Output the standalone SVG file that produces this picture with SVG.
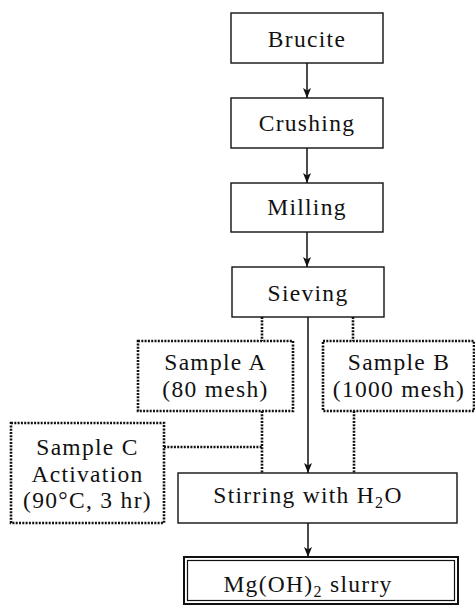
<svg xmlns="http://www.w3.org/2000/svg" width="475" height="607" viewBox="0 0 475 607">
<style>
  .box{fill:#fff;stroke:#111;stroke-width:1.4}
  .dbox{fill:#fff;stroke:#111;stroke-width:2.6;stroke-dasharray:2 1.3}
  .t{font-family:"Liberation Serif","Times New Roman",serif;font-size:23.5px;letter-spacing:1.3px;fill:#111;text-anchor:middle}
  .ln{stroke:#111;stroke-width:1.5;fill:none}
  .dl{stroke:#111;stroke-width:2.6;fill:none;stroke-dasharray:2 1.3}
</style>
<defs>
  <marker id="ah" viewBox="0 0 10 8" refX="10" refY="4" markerWidth="10" markerHeight="8" markerUnits="userSpaceOnUse" orient="auto">
    <path d="M0,0 L10,4 L0,8 L2.5,4 z" fill="#111"/>
  </marker>
</defs>
<rect width="475" height="607" fill="#fff"/>
<g id="connectors">
  <line class="ln" x1="307" y1="63" x2="307" y2="98" marker-end="url(#ah)"/>
  <line class="ln" x1="307" y1="148" x2="307" y2="183" marker-end="url(#ah)"/>
  <line class="ln" x1="307" y1="232" x2="307" y2="267" marker-end="url(#ah)"/>
  <line class="ln" x1="308" y1="317" x2="308" y2="473" marker-end="url(#ah)"/>
  <line class="ln" x1="308" y1="523" x2="308" y2="557" marker-end="url(#ah)"/>
  <line class="dl" x1="262" y1="317" x2="262" y2="341"/>
  <line class="dl" x1="353" y1="317" x2="353" y2="341"/>
  <line class="dl" x1="262" y1="411" x2="262" y2="473"/>
  <line class="dl" x1="354" y1="411" x2="354" y2="473"/>
  <line class="dl" x1="164" y1="447" x2="262" y2="447"/>
</g>
<g id="brucite">
  <rect class="box" x="231" y="13" width="152" height="50"/>
  <text class="t" x="307" y="47">Brucite</text>
</g>
<g id="crushing">
  <rect class="box" x="231" y="98" width="152" height="50"/>
  <text class="t" x="307" y="131">Crushing</text>
</g>
<g id="milling">
  <rect class="box" x="231" y="183" width="152" height="49"/>
  <text class="t" x="307" y="215">Milling</text>
</g>
<g id="sieving">
  <rect class="box" x="232" y="267" width="152" height="50"/>
  <text class="t" x="308" y="301">Sieving</text>
</g>
<g id="sampleA">
  <rect class="dbox" x="138" y="341" width="155" height="70"/>
  <text class="t" x="215.5" y="370">Sample A</text>
  <text class="t" x="215.5" y="397">(80 mesh)</text>
</g>
<g id="sampleB">
  <rect class="dbox" x="323" y="341" width="151" height="70"/>
  <text class="t" x="399" y="370">Sample B</text>
  <text class="t" x="399" y="397">(1000 mesh)</text>
</g>
<g id="sampleC">
  <rect class="dbox" x="11" y="423" width="153" height="100"/>
  <text class="t" x="87.5" y="455">Sample C</text>
  <text class="t" x="87.5" y="482">Activation</text>
  <text class="t" x="87.5" y="508">(90°C, 3 hr)</text>
</g>
<g id="stirring">
  <rect class="box" x="178" y="473" width="279" height="50"/>
  <text class="t" x="308" y="503">Stirring with H<tspan font-size="16" dy="5">2</tspan><tspan dy="-5">O</tspan></text>
</g>
<g id="slurry">
  <rect x="184" y="557" width="274" height="47" fill="#fff" stroke="#111" stroke-width="2"/>
  <rect x="187.5" y="560.5" width="267" height="40" fill="none" stroke="#111" stroke-width="1.2"/>
  <text class="t" x="308" y="592">Mg(OH)<tspan font-size="16" dy="5">2</tspan><tspan dy="-5"> slurry</tspan></text>
</g>
</svg>
